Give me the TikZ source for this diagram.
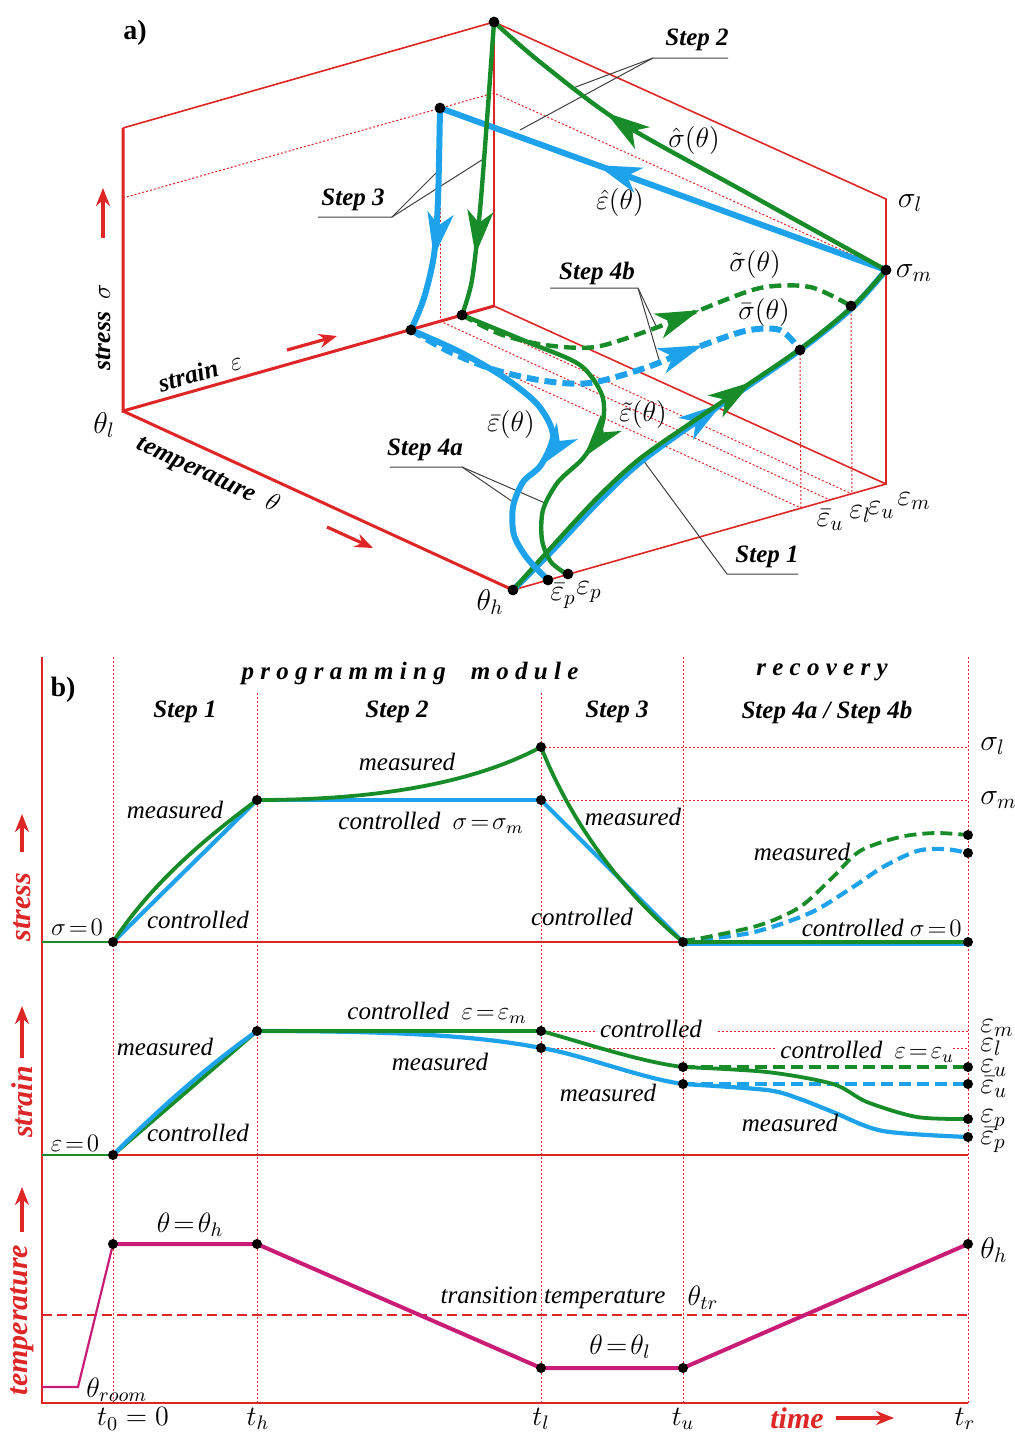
\RequirePackage{fix-cm}
\documentclass[tikz,border=0pt]{standalone}
\usepackage{fontspec}
\setmainfont{Liberation Serif}
\usetikzlibrary{arrows.meta,decorations.markings}
\definecolor{axred}{RGB}{222,38,38}
\definecolor{cgreen}{RGB}{24,140,40}
\definecolor{cblue}{RGB}{30,162,235}
\definecolor{cmag}{RGB}{200,28,118}
\newcommand\mydot[1]{\fill (#1) circle[radius=2.7pt];}
\newcommand\mysdot[1]{\fill (#1) circle[radius=2.5pt];}
\tikzset{
  frame/.style={axred,line width=0.8pt},
  mainax/.style={axred,line width=1.5pt},
  dotln/.style={axred,line width=0.5pt,dash pattern=on 1pt off 1pt},
  blu/.style={cblue,line width=3pt},
  grn/.style={cgreen,line width=2.2pt},
  blub/.style={cblue,line width=2.1pt},
  grnb/.style={cgreen,line width=1.9pt},
  dsh/.style={dash pattern=on 6pt off 3pt},
  midarr/.style={postaction={decorate},decoration={markings,mark=at position #1 with {\arrow{Stealth[length=22pt,width=13pt,inset=6pt]}}}},
  txt/.style={inner sep=0pt,font=\fontsize{12.5}{14}\selectfont\itshape},
  stp/.style={inner sep=0pt,font=\fontsize{12.5}{14}\selectfont\bfseries\itshape},
  mth/.style={inner sep=0pt,font=\fontsize{14}{16}\selectfont},
  bigm/.style={inner sep=0pt,font=\fontsize{15}{17}\selectfont},
  tlab/.style={inner sep=0pt,font=\fontsize{14}{16}\selectfont},
  axlab/.style={inner sep=0pt,font=\fontsize{12.8}{14}\selectfont\bfseries\itshape},
  redlab/.style={inner sep=0pt,text=axred,font=\fontsize{15}{17}\selectfont\bfseries\itshape},
  redarr/.style={axred,line width=1.6pt,-{Stealth[length=9pt,width=7pt]}},
  leader/.style={black!75,line width=0.5pt},
}
\begin{document}
\begin{tikzpicture}[x=0.5pt,y=-0.5pt]
\useasboundingbox[fill=white] (0,0) rectangle (1015,1437);
%% ================= part a =================
\coordinate (O) at (123,411);
\coordinate (TL) at (123,128);
\coordinate (Tc) at (494,22);
\coordinate (Bc) at (494,306);
\coordinate (Rt) at (886,199);
\coordinate (Rb) at (886,484);
\coordinate (Th) at (513,590);
\coordinate (Sm) at (886,270);
\coordinate (P1) at (440,108);
\coordinate (P1b) at (440,321);
\coordinate (D2) at (411,330);
\coordinate (G3) at (462,315);
\coordinate (Gs) at (851,306);
\coordinate (Bs) at (800,350);
\coordinate (Epb) at (548,580);
\coordinate (Ep) at (568,574);
\coordinate (Ml) at (123,198);
\coordinate (Mb) at (494,93);
\coordinate (Fu) at (801,508);
\coordinate (Fl) at (830,500);
\coordinate (Fe) at (852,494);
% frame
\draw[frame] (TL) -- (Tc) -- (Rt) -- (Rb) -- (Th);
\draw[frame] (Tc) -- (Bc) -- (Rb);
\draw[mainax] (TL) -- (O) -- (Bc);
\draw[mainax] (O) -- (Th);
\draw[dotln] (Ml) -- (Mb) -- (Sm);
\draw[dotln] (P1) -- (P1b);
\draw[dotln] (D2) -- (Fu);
\draw[dotln] (P1b) -- (Fl);
\draw[dotln] (G3) -- (Fe);
\draw[dotln] (Bs) -- (Fu);
\draw[dotln] (Gs) -- (Fe);
% step labels and leaders
\node[stp] (st2) at (697,40) {Step 2};
\coordinate (st2a) at (653,58); \coordinate (st2b) at (728,58);
\coordinate (st2g) at (573,88); \coordinate (st2l) at (520,130);
\draw[leader] (st2b) -- (st2a) -- (st2g); \draw[leader] (st2a) -- (st2l);
\node[stp] (st3) at (353,200) {Step 3};
\coordinate (st3a) at (318,217); \coordinate (st3b) at (392,217);
\coordinate (st3l) at (437,172); \coordinate (st3g) at (485,158);
\draw[leader] (st3a) -- (st3b) -- (st3l); \draw[leader] (st3b) -- (st3g);
\node[stp] (st4b) at (597,273) {Step 4b};
\coordinate (st4ba) at (550,288); \coordinate (st4bb) at (638,288);
\coordinate (st4bg) at (657,328); \coordinate (st4bl) at (660,363);
\draw[leader] (st4ba) -- (st4bb) -- (st4bg); \draw[leader] (st4bb) -- (st4bl);
\node[stp] (st4a) at (425,450) {Step 4a};
\coordinate (st4aa) at (390,467); \coordinate (st4ab) at (462,467);
\coordinate (st4al) at (513,502); \coordinate (st4ag) at (545,503);
\draw[leader] (st4aa) -- (st4ab) -- (st4al); \draw[leader] (st4ab) -- (st4ag);
\node[stp] (st1) at (767,557) {Step 1};
\coordinate (st1a) at (727,574); \coordinate (st1b) at (798,574);
\coordinate (st1c) at (643,460);
\draw[leader] (st1b) -- (st1a) -- (st1c);
% step 1
\draw[blu,midarr=0.57] plot[smooth] coordinates {(513,590) (550,553) (600,500) (643,460) (713,410) (800,350) (853,307) (886,270)};
\draw[grn,midarr=0.645] plot[smooth] coordinates {(513,590) (548,551) (598,497) (642,457) (713,408) (800,349) (853,306) (886,270)};
% step 2
\draw[blu,midarr=0.648] (Sm) -- (P1);
\draw[grn,midarr=0.69] plot[smooth] coordinates {(886,270) (747,193) (620,122) (540,62) (494,22)};
% step 3
\draw[blu,midarr=0.66] plot[smooth] coordinates {(440,108) (438,200) (434,255) (424,298) (411,330)};
\draw[grn,midarr=0.79] plot[smooth] coordinates {(494,22) (487,120) (480,210) (472,280) (462,315)};
% step 4b
\draw[blu,dsh,midarr=0.74] plot[smooth] coordinates {(411,330) (450,352) (495,370) (545,381) (590,383) (645,368) (690,350) (745,331) (780,330) (800,350)};
\draw[grn,dsh,midarr=0.61] plot[smooth] coordinates {(462,315) (500,334) (545,345) (595,347) (650,330) (700,310) (760,288) (810,287) (851,306)};
% step 4a
\draw[blu,midarr=0.615] plot[smooth] coordinates {(411,330) (460,352) (505,378) (538,405) (553,435) (541,465) (523,482) (513,507) (514,535) (527,558) (548,580)};
\draw[grn,midarr=0.62] plot[smooth] coordinates {(462,315) (530,343) (580,365) (602,395) (602,425) (584,457) (558,482) (543,510) (542,540) (551,562) (568,575)};
% dots
\mydot{Tc} \mydot{P1} \mydot{D2} \mydot{G3} \mydot{Sm} \mydot{Gs} \mydot{Bs} \mydot{Th} \mydot{Epb} \mydot{Ep}
% labels a
\node[font=\fontsize{14}{16}\selectfont\bfseries,inner sep=0pt] (la) at (135,33) {a)};
\node[axlab,rotate=90] (lstress) at (103,327) {stress\ \ $\sigma$};
\draw[redarr] (103,238) -- (103,188);
\node[axlab,rotate=15.8] (lstrain) at (200,372) {strain\ \ $\varepsilon$};
\draw[redarr] (287,350) -- (337,336);
\node[axlab,rotate=-24.6] (ltemp) at (208,475) {temperature\ \ $\theta$};
\draw[redarr] (327,527) -- (373,548);
\node[mth] (lsh) at (694,140) {$\hat{\sigma}(\theta)$};
\node[mth] (leh) at (620,202) {$\hat{\varepsilon}(\theta)$};
\node[mth] (lst) at (755,264) {$\tilde{\sigma}(\theta)$};
\node[mth] (lsb) at (764,312) {$\bar{\sigma}(\theta)$};
\node[mth] (leb) at (511,424) {$\bar{\varepsilon}(\theta)$};
\node[mth] (let) at (643,414) {$\tilde{\varepsilon}(\theta)$};
\node[bigm] (lsl) at (910,203) {$\sigma_l$};
\node[bigm] (lsm) at (914,273) {$\sigma_m$};
\node[bigm] (lthl) at (104,425) {$\theta_l$};
\node[bigm] (lthh) at (490,602) {$\theta_h$};
\node[bigm] (lepb) at (563,596) {$\bar{\varepsilon}_p$};
\node[bigm] (lep) at (589,592) {$\varepsilon_p$};
\node[bigm] (leub) at (830,520) {$\bar{\varepsilon}_u$};
\node[bigm] (lel) at (860,514) {$\varepsilon_l$};
\node[bigm] (leu) at (881,510) {$\varepsilon_u$};
\node[bigm] (lem) at (914,501) {$\varepsilon_m$};
%% ================= part b =================
\coordinate (S0) at (113,942);
\coordinate (S1) at (257,800);
\coordinate (S2g) at (541,747);
\coordinate (S2b) at (541,800);
\coordinate (S3) at (683,942);
\coordinate (S4g) at (968,835);
\coordinate (S4b) at (968,853);
\coordinate (S4) at (968,942);
\coordinate (E0) at (113,1155);
\coordinate (E1) at (257,1031);
\coordinate (E2g) at (541,1031);
\coordinate (E2b) at (541,1048);
\coordinate (E3g) at (683,1067);
\coordinate (E3b) at (683,1084);
\coordinate (E4gd) at (968,1067);
\coordinate (E4bd) at (968,1084);
\coordinate (E4g) at (968,1119);
\coordinate (E4b) at (968,1137);
\coordinate (T0) at (113,1244);
\coordinate (T1) at (257,1244);
\coordinate (T2) at (541,1368);
\coordinate (T3) at (683,1368);
\coordinate (T4) at (968,1244);
% axes
\draw[axred,line width=1.1pt] (42,657) -- (42,1403) -- (968,1403);
\draw[frame] (42,942) -- (S4);
\draw[frame] (42,1155) -- (968,1155);
\foreach \x/\y in {113/657,257/693,541/693,683/657,968/657} \draw[dotln] (\x,\y) -- (\x,1403);
\draw[dotln] (S2g) -- (968,747);
\draw[dotln] (S2b) -- (968,800);
\draw[dotln] (E2g) -- (595,1031); \draw[dotln] (718,1031) -- (968,1031);
\draw[dotln] (E2b) -- (775,1048); \draw[dotln] (953,1048) -- (968,1048);
\draw[axred,line width=1pt,dash pattern=on 5pt off 2.5pt] (42,1315) -- (968,1315);
\draw[cgreen,line width=1.2pt] (42,942) -- (S0);
\draw[cgreen,line width=1.2pt] (42,1155) -- (E0);
% stress curves
\draw[blub] (S0) -- (S1);
\draw[grnb] (S0) .. controls (150,886) and (200,842) .. (S1);
\draw[blub] (S1) -- (S2b);
\draw[grnb] (S1) .. controls (370,800) and (470,785) .. (S2g);
\draw[blub] (S2b) -- (S3);
\draw[grnb] (S2g) .. controls (570,820) and (620,890) .. (S3);
\draw[blub,dsh] plot[smooth] coordinates {(683,941) (750,933) (810,913) (853,887) (883,867) (917,851) (945,849) (968,853)};
\draw[grnb,dsh] plot[smooth] coordinates {(683,941) (707,937) (760,925) (800,907) (833,877) (860,851) (900,837) (935,833) (968,835)};
\draw[cblue,line width=2.6pt] (683,943.5) -- (968,943.5);
\draw[grnb] (S3) -- (S4);
% strain curves
\draw[grnb] (E0) -- (E1);
\draw[blub] (E0) .. controls (158,1110) and (205,1068) .. (E1);
\draw[blub] (E1) .. controls (400,1031) and (480,1036) .. (E2b);
\draw[grnb] (E1) -- (E2g);
\draw[grnb] (E2g) .. controls (575,1040) and (640,1062) .. (E3g);
\draw[blub] (E2b) .. controls (580,1054) and (640,1078) .. (E3b);
\draw[grnb,dsh] (E3g) -- (E4gd);
\draw[blub,dsh] (E3b) -- (E4bd);
\draw[grnb] plot[smooth] coordinates {(683,1067) (767,1072) (833,1084) (867,1102) (917,1117) (968,1119)};
\draw[blub] plot[smooth] coordinates {(683,1084) (767,1090) (800,1099) (833,1112) (883,1131) (968,1137)};
% temperature
\draw[cmag,line width=1.1pt] (42,1387) -- (78,1387) -- (T0);
\draw[cmag,line width=2pt] (T0) -- (T1) -- (T2) -- (T3) -- (T4);
% dots b
\mysdot{S0} \mysdot{S1} \mysdot{S2g} \mysdot{S2b} \mysdot{S3} \mysdot{S4g} \mysdot{S4b} \mysdot{S4}
\mysdot{E0} \mysdot{E1} \mysdot{E2g} \mysdot{E2b} \mysdot{E3g} \mysdot{E3b} \mysdot{E4gd} \mysdot{E4bd} \mysdot{E4g} \mysdot{E4b}
\mysdot{T0} \mysdot{T1} \mysdot{T2} \mysdot{T3} \mysdot{T4}
% labels b
\node[font=\fontsize{14}{16}\selectfont\bfseries,inner sep=0pt] (lb) at (63,690) {b)};
\node[stp] (lprog) at (410,673) {p r o g r a m m i n g\quad m o d u l e};
\node[stp] (lrec) at (822,672) {r e c o v e r y};
\node[stp] (lS1) at (185,712) {Step 1};
\node[stp] (lS2) at (397,712) {Step 2};
\node[stp] (lS3) at (617,712) {Step 3};
\node[stp] (lS4) at (827,712) {Step 4a / Step 4b};
\node[txt] (m1) at (175,810) {measured};
\node[txt] (c1) at (198,920) {controlled};
\node[txt] (m2) at (407,762) {measured};
\node[txt,anchor=west] (c2) at (338,823) {controlled\ \ $\sigma\!=\!\sigma_m$};
\node[txt] (m3) at (633,817) {measured};
\node[txt] (c3) at (582,917) {controlled};
\node[txt] (m4) at (802,852) {measured};
\node[txt,anchor=east] (c4) at (962,928) {controlled $\sigma\!=\!0$};
\node[txt] (z1) at (77,927) {$\sigma\!=\!0$};
\node[txt] (m5) at (165,1047) {measured};
\node[txt] (c5) at (198,1133) {controlled};
\node[txt,anchor=west] (c6) at (347,1013) {controlled\ \ $\varepsilon\!=\!\varepsilon_m$};
\node[txt] (m6) at (440,1062) {measured};
\node[txt] (c7) at (651,1029) {controlled};
\node[txt] (m7) at (608,1093) {measured};
\node[txt,anchor=west] (c8) at (780,1052) {controlled\ \ $\varepsilon\!=\!\varepsilon_u$};
\node[txt] (m8) at (790,1123) {measured};
\node[txt] (z2) at (75,1143) {$\varepsilon\!=\!0$};
\node[bigm,anchor=west] (rsl) at (980,746) {$\sigma_l$};
\node[bigm,anchor=west] (rsm) at (980,800) {$\sigma_m$};
\node[bigm,anchor=west] (rem) at (980,1028) {$\varepsilon_m$};
\node[bigm,anchor=west] (rel) at (980,1047) {$\varepsilon_l$};
\node[bigm,anchor=west] (reu) at (980,1068) {$\varepsilon_u$};
\node[bigm,anchor=west] (reub) at (980,1087) {$\bar{\varepsilon}_u$};
\node[bigm,anchor=west] (rep) at (980,1120) {$\varepsilon_p$};
\node[bigm,anchor=west] (repb) at (980,1140) {$\bar{\varepsilon}_p$};
\node[mth] (th1) at (190,1225) {$\theta\!=\!\theta_h$};
\node[mth,anchor=west] (throom) at (86,1390) {$\theta_{room}$};
\node[txt] (ttr) at (553,1298) {transition temperature};
\node[mth] (thtr) at (703,1298) {$\theta_{tr}$};
\node[mth] (thl) at (620,1347) {$\theta\!=\!\theta_l$};
\node[bigm,anchor=west] (rth) at (980,1250) {$\theta_h$};
\node[tlab] (t0) at (133,1419) {$t_0=0$};
\node[tlab] (tth) at (258,1419) {$t_h$};
\node[tlab] (ttl) at (541,1419) {$t_l$};
\node[tlab] (ttu) at (683,1419) {$t_u$};
\node[tlab] (ttr2) at (965,1419) {$t_r$};
\node[redlab] (ltime) at (797,1418) {time};
\draw[redarr] (ltime.east) ++(12,0) -- ++(58,0);
\node[redlab,rotate=90] (lbs) at (22,907) {stress};
\draw[redarr] (22,852) -- (22,814);
\node[redlab,rotate=90] (lbe) at (22,1102) {strain};
\draw[redarr] (22,1058) -- (22,1006);
\node[redlab,rotate=90] (lbt) at (22,1320) {temperature};
\draw[redarr] (22,1232) -- (22,1187);
\end{tikzpicture}
\end{document}
